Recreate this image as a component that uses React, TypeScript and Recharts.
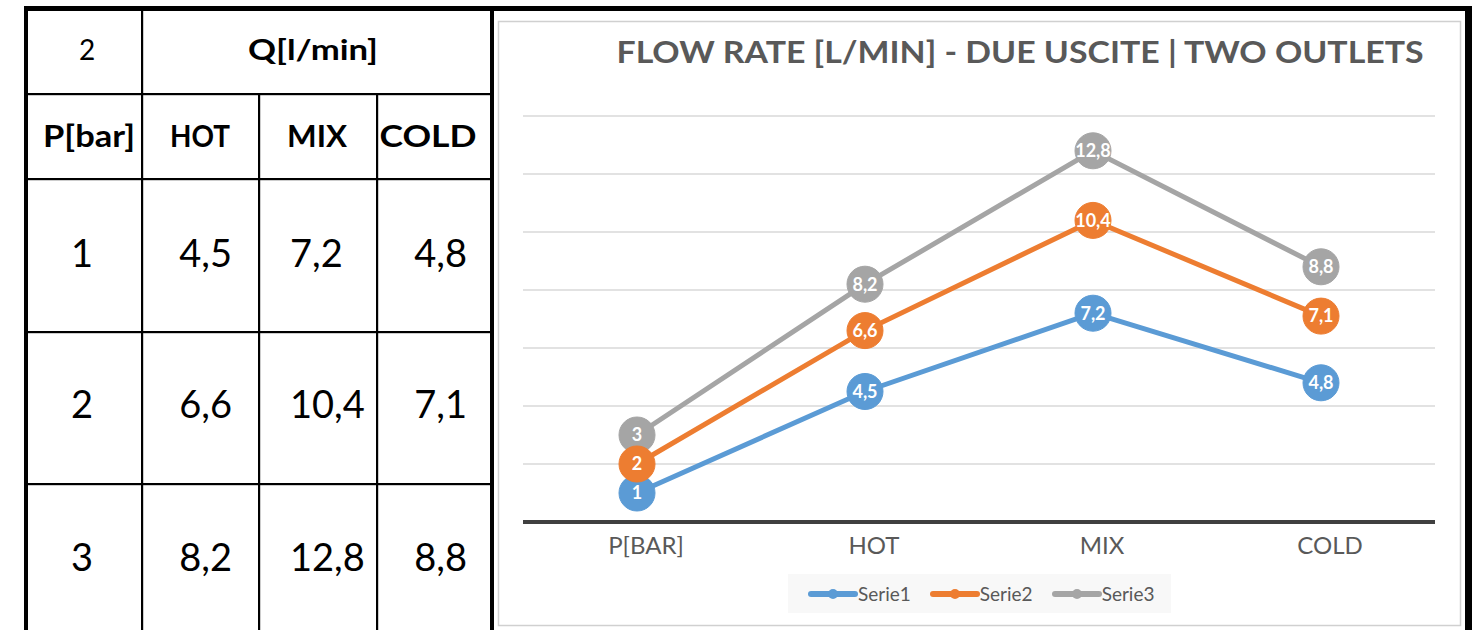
import React from 'react';
import { LineChart, Line, XAxis, YAxis, CartesianGrid, Legend, LabelList } from 'recharts';

const categories = ['P[BAR]', 'HOT', 'MIX', 'COLD'];
const serie1 = [1, 4.5, 7.2, 4.8];
const serie2 = [2, 6.6, 10.4, 7.1];
const serie3 = [3, 8.2, 12.8, 8.8];
const seriesNames = ['Serie1', 'Serie2', 'Serie3'];
const seriesKeys = ['s1', 's2', 's3'];
const colors = ['#5B9BD5', '#ED7D31', '#A5A5A5'];
const yTicks = [0, 2, 4, 6, 8, 10, 12, 14];
const tableHeaders = ['P[bar]', 'HOT', 'MIX', 'COLD'];
const tableTitle = 'Q[l/min]';
const tableCorner = '2';
const chartTitle = 'FLOW RATE [L/MIN] - DUE USCITE | TWO OUTLETS';

const allSeries = [serie1, serie2, serie3];
const data = categories.map((c, i) => ({ cat: c, s1: serie1[i], s2: serie2[i], s3: serie3[i] }));
const fmt = (v: any) => String(v).replace('.', ',');

const FONT = 'Lato, "Open Sans", sans-serif';

const LegendContent = () => (
  <div
    style={{
      width: 383,
      height: 39,
      background: '#f8f8f8',
      display: 'flex',
      alignItems: 'center',
      paddingLeft: 20,
      boxSizing: 'border-box',
      fontFamily: FONT,
      fontSize: 19,
      color: '#595959',
    }}
  >
    {seriesNames.map((n, i) => (
      <div key={n} style={{ display: 'flex', alignItems: 'center', marginRight: 19 }}>
        <svg width={50} height={12} style={{ display: 'block' }}>
          <line x1={3} x2={47} y1={6} y2={6} stroke={colors[i]} strokeWidth={6} strokeLinecap="round" />
          <circle cx={25} cy={6} r={5} fill={colors[i]} />
        </svg>
        <span>{n}</span>
      </div>
    ))}
  </div>
);

const rowY = [8, 94, 179, 332, 484];
const rowCenters = [252, 403, 556];

const Background = () => (
  <svg width={1478} height={630} style={{ position: 'absolute', left: 0, top: 0 }}>
    <rect x={0} y={0} width={1478} height={630} fill="#ffffff" />
    {/* chart frame */}
    <rect x={498.5} y={21.5} width={962} height={604} fill="#ffffff" stroke="#d0d0d0" strokeWidth={1.5} />
    {/* outer black borders */}
    <rect x={24} y={6} width={1448} height={5} fill="#000" />
    <rect x={24} y={6} width={4} height={630} fill="#000" />
    <rect x={490} y={6} width={4} height={630} fill="#000" />
    <rect x={1465} y={6} width={7} height={630} fill="#000" />
    {/* table row lines */}
    {rowY.slice(1).map((y) => (
      <rect key={y} x={24} y={y - 1} width={468} height={2.2} fill="#000" />
    ))}
    {/* column lines */}
    <rect x={141} y={6} width={2.2} height={630} fill="#000" />
    <rect x={258} y={rowY[1]} width={2.2} height={630} fill="#000" />
    <rect x={376} y={rowY[1]} width={2.2} height={630} fill="#000" />
    {/* table texts */}
    <text x={87} y={49} fontFamily={FONT} fontSize={28} textAnchor="middle" dominantBaseline="central" fill="#000">
      {tableCorner}
    </text>
    <text x={313} y={49} fontFamily={FONT} fontSize={28} fontWeight={700} textAnchor="middle" dominantBaseline="central" fill="#000" textLength={130} lengthAdjust="spacingAndGlyphs">
      {tableTitle}
    </text>
    {tableHeaders.map((h, i) => {
      const cx = [89, 200, 317, 428][i];
      const w = [92, 60, 60, 97][i];
      return (
        <text key={h} x={cx} y={135} fontFamily={FONT} fontSize={30} fontWeight={700} textAnchor="middle" dominantBaseline="central" fill="#000" textLength={w} lengthAdjust="spacingAndGlyphs">
          {h}
        </text>
      );
    })}
    {allSeries.map((s, r) => (
      <g key={r} fontFamily={FONT} fontSize={38} fill="#000">
        <text x={82} y={rowCenters[r]} textAnchor="middle" dominantBaseline="central">{fmt(s[0])}</text>
        <text x={232} y={rowCenters[r]} textAnchor="end" dominantBaseline="central">{fmt(s[1])}</text>
        <text x={290} y={rowCenters[r]} textAnchor="start" dominantBaseline="central">{fmt(s[2])}</text>
        <text x={467} y={rowCenters[r]} textAnchor="end" dominantBaseline="central">{fmt(s[3])}</text>
      </g>
    ))}
    {/* chart title */}
    <text x={1020} y={51} fontFamily={FONT} fontSize={30} fontWeight={700} textAnchor="middle" dominantBaseline="central" fill="#595959" textLength={807} lengthAdjust="spacingAndGlyphs">
      {chartTitle}
    </text>
  </svg>
);

const drawOrder = [0, 2, 1];

export default function App() {
  return (
    <div style={{ position: 'absolute', left: 0, top: 0, width: 1478, height: 630, background: '#fff' }}>
      <Background />
      <div style={{ position: 'absolute', left: 0, top: 0 }}>
        <LineChart width={1478} height={630} data={data} margin={{ top: 116, right: 43, bottom: 39, left: 523 }}>
          <CartesianGrid horizontal vertical={false} stroke="#d9d9d9" strokeWidth={1.5} />
          <YAxis hide domain={[0, 14]} ticks={yTicks} type="number" />
          <XAxis
            dataKey="cat"
            height={30}
            tickLine={false}
            axisLine={{ stroke: '#404040', strokeWidth: 4 }}
            tick={{ fill: '#595959', fontSize: 24, fontFamily: FONT, dx: 9 }}
            tickMargin={9}
            padding={{ left: 114, right: 114 }}
          />
          <Legend
            content={<LegendContent />}
            wrapperStyle={{ left: 788, top: 574, width: 383, height: 39, bottom: 'auto' }}
          />
          {drawOrder.map((i) => (
            <Line
              key={seriesKeys[i]}
              dataKey={seriesKeys[i]}
              name={seriesNames[i]}
              stroke={colors[i]}
              strokeWidth={5}
              dot={{ r: 18, fill: colors[i], stroke: colors[i], strokeWidth: 1 }}
              activeDot={false}
              isAnimationActive={false}
            >
              <LabelList
                dataKey={seriesKeys[i]}
                position="center"
                formatter={fmt}
                fill="#ffffff"
                fontSize={18}
                fontWeight={700}
                fontFamily={FONT}
              />
            </Line>
          ))}
        </LineChart>
      </div>
    </div>
  );
}
